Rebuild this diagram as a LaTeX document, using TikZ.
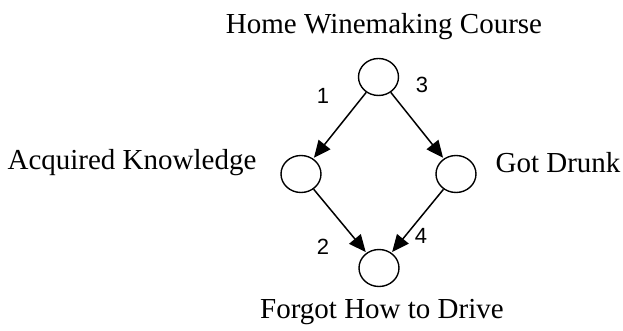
\documentclass[tikz,border=0pt]{standalone}
\usepackage{fontspec}
\setmainfont{Liberation Serif}
\newfontfamily\numfont{Liberation Sans}
\usetikzlibrary{shapes.geometric,arrows.meta}
\begin{document}
\begin{tikzpicture}[x=1pt,y=-1pt,
  state/.style={draw,line width=1.4pt,ellipse,minimum width=40pt,minimum height=37pt,inner sep=0pt},
  caption/.style={font=\fontsize{29}{32}\selectfont,inner sep=0pt},
  weight/.style={font=\numfont\fontsize{22}{24}\selectfont,inner sep=0pt},
  link/.style={line width=1.5pt,-{Triangle[length=17pt,width=15pt]},shorten >=1pt,shorten <=0pt}]
\useasboundingbox (0,0) rectangle (623,331);
\node[state] (top) at (378.5,77) {};
\node[state] (left) at (301,174) {};
\node[state] (right) at (456,174) {};
\node[state] (bottom) at (379,268) {};
\node[caption] (tt) at (384,27) {Home Winemaking Course};
\node[caption] (lt) at (132,163) {Acquired Knowledge};
\node[caption] (rt) at (558,163) {Got Drunk};
\node[caption] (bt) at (382,312) {Forgot How to Drive};
\draw[link] (top) -- (left);
\draw[link] (top) -- (right);
\draw[link] (left) -- (bottom);
\draw[link] (right) -- (bottom);
\node[weight] (w1) at (323,96) {1};
\node[weight] (w3) at (422,85) {3};
\node[weight] (w2) at (323,247) {2};
\node[weight] (w4) at (421,236) {4};
\end{tikzpicture}
\end{document}
